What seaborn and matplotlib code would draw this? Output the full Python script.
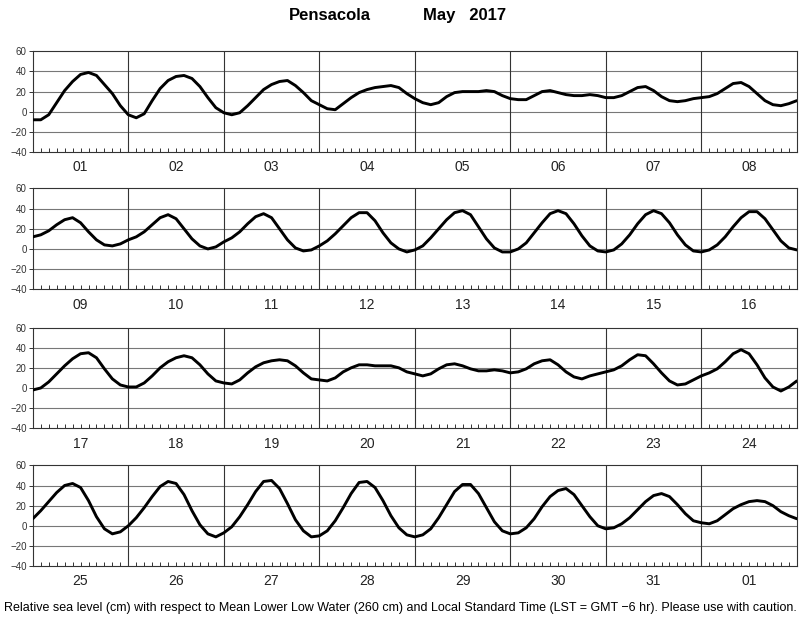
import numpy as np
import pandas as pd
import matplotlib
matplotlib.use("Agg")
import matplotlib.pyplot as plt
import seaborn as sns

# sea level (cm, MLLW) every 2 hours, 8 days per panel + closing value
week1 = [-8, -8, -3, 9, 21, 30, 37, 39, 36, 27, 18, 6,
         -3, -6, -2, 11, 23, 31, 35, 36, 33, 25, 14, 4,
         -1, -3, -1, 6, 14, 22, 27, 30, 31, 26, 19, 11,
         7, 3, 2, 8, 14, 19, 22, 24, 25, 26, 24, 18,
         13, 9, 7, 9, 15, 19, 20, 20, 20, 21, 20, 16,
         13, 12, 12, 16, 20, 21, 19, 17, 16, 16, 17, 16,
         14, 14, 16, 20, 24, 25, 21, 15, 11, 10, 11, 13,
         14, 15, 18, 23, 28, 29, 25, 18, 11, 7, 6, 8,
         11]
week2 = [12, 14, 18, 24, 29, 31, 26, 17, 9, 4, 3, 5,
         9, 12, 17, 24, 31, 34, 30, 20, 10, 3, 0, 2,
         7, 11, 17, 25, 32, 35, 31, 20, 9, 1, -2, -1,
         3, 8, 15, 23, 31, 36, 36, 28, 16, 6, 0, -3,
         -1, 3, 11, 20, 29, 36, 38, 34, 22, 10, 1, -3,
         -3, 0, 6, 16, 26, 35, 38, 35, 25, 13, 3, -2,
         -3, -1, 5, 14, 25, 34, 38, 35, 26, 14, 4, -2,
         -3, -1, 4, 12, 22, 31, 37, 37, 30, 19, 8, 1,
         -1]
week3 = [-2, 0, 6, 14, 22, 29, 34, 35, 30, 19, 9, 3,
         1, 1, 5, 12, 20, 26, 30, 32, 30, 23, 14, 7,
         5, 4, 8, 15, 21, 25, 27, 28, 27, 22, 15, 9,
         8, 7, 10, 16, 20, 23, 23, 22, 22, 22, 20, 16,
         14, 12, 14, 19, 23, 24, 22, 19, 17, 17, 18, 17,
         15, 16, 19, 24, 27, 28, 23, 16, 11, 9, 12, 14,
         16, 18, 22, 28, 33, 32, 24, 15, 7, 3, 4, 8,
         12, 15, 19, 26, 34, 38, 34, 23, 10, 1, -3, 1,
         7]
week4 = [7, 15, 24, 33, 40, 42, 38, 25, 9, -3, -8, -6,
         0, 8, 18, 29, 39, 44, 42, 31, 15, 1, -8, -11,
         -7, -1, 9, 21, 34, 44, 45, 37, 22, 6, -5, -11,
         -10, -5, 5, 18, 32, 43, 44, 38, 25, 10, -2, -9,
         -11, -9, -3, 8, 21, 34, 41, 41, 32, 18, 4, -5,
         -8, -7, -2, 7, 19, 29, 35, 37, 31, 20, 9, 0,
         -3, -2, 2, 8, 16, 24, 30, 32, 29, 21, 12, 5,
         3, 2, 5, 11, 17, 21, 24, 25, 24, 20, 14, 10,
         7]
weeks = [week1, week2, week3, week4]
day_labels = [["01", "02", "03", "04", "05", "06", "07", "08"],
              ["09", "10", "11", "12", "13", "14", "15", "16"],
              ["17", "18", "19", "20", "21", "22", "23", "24"],
              ["25", "26", "27", "28", "29", "30", "31", "01"]]

plt.rcParams['font.family'] = ['Liberation Sans', 'DejaVu Sans']

fig = plt.figure(figsize=(8, 6.18), dpi=100, facecolor='white')
bottoms = [0.754, 0.532, 0.307, 0.084]
frame_c = '#333333'
grid_c = '#777777'

for levels, labels, b in zip(weeks, day_labels, bottoms):
    ax = fig.add_axes([0.041, b, 0.955, 0.163])
    df = pd.DataFrame({'day': np.arange(len(levels)) / 12.0, 'level': levels})
    for yv in [-20, 0, 20, 40]:
        ax.axhline(yv, color=grid_c, lw=0.8, zorder=1)
    for xv in range(1, 8):
        ax.axvline(xv, color=frame_c, lw=0.8, zorder=1)
    sns.lineplot(data=df, x='day', y='level', ax=ax, color='black', lw=2.1, zorder=3,
                 solid_joinstyle='round', solid_capstyle='round')
    ax.set_xlim(0, 8)
    ax.set_ylim(-40, 60)
    ax.set_yticks([-40, -20, 0, 20, 40, 60])
    ax.set_xticks(np.arange(8) + 0.5)
    ax.set_xticklabels(labels)
    minor = [d + h / 24.0 for d in range(8) for h in range(2, 24, 2)]
    ax.set_xticks(minor, minor=True)
    ax.xaxis.remove_overlapping_locs = False
    ax.tick_params(axis='x', which='major', length=0, labelsize=10, pad=6, colors='#222222')
    ax.tick_params(axis='x', which='minor', direction='in', length=3, width=0.7, color=frame_c)
    ax.tick_params(axis='y', length=3, width=0.7, labelsize=7, pad=1.5, color=frame_c, labelcolor='#333333')
    ax.set_xlabel('')
    ax.set_ylabel('')
    for s in ax.spines.values():
        s.set_color(frame_c)
        s.set_linewidth(0.8)

fig.text(0.4125, 0.975, 'Pensacola', ha='center', va='center', fontsize=12, fontweight='bold')
fig.text(0.581, 0.975, 'May   2017', ha='center', va='center', fontsize=12, fontweight='bold')
fig.text(0.5, 0.016, 'Relative sea level (cm) with respect to Mean Lower Low Water (260 cm) and '
         'Local Standard Time (LST = GMT \u22126 hr). Please use with caution.',
         ha='center', va='center', fontsize=9.0)

plt.savefig('out.png', dpi=100, facecolor='white')
